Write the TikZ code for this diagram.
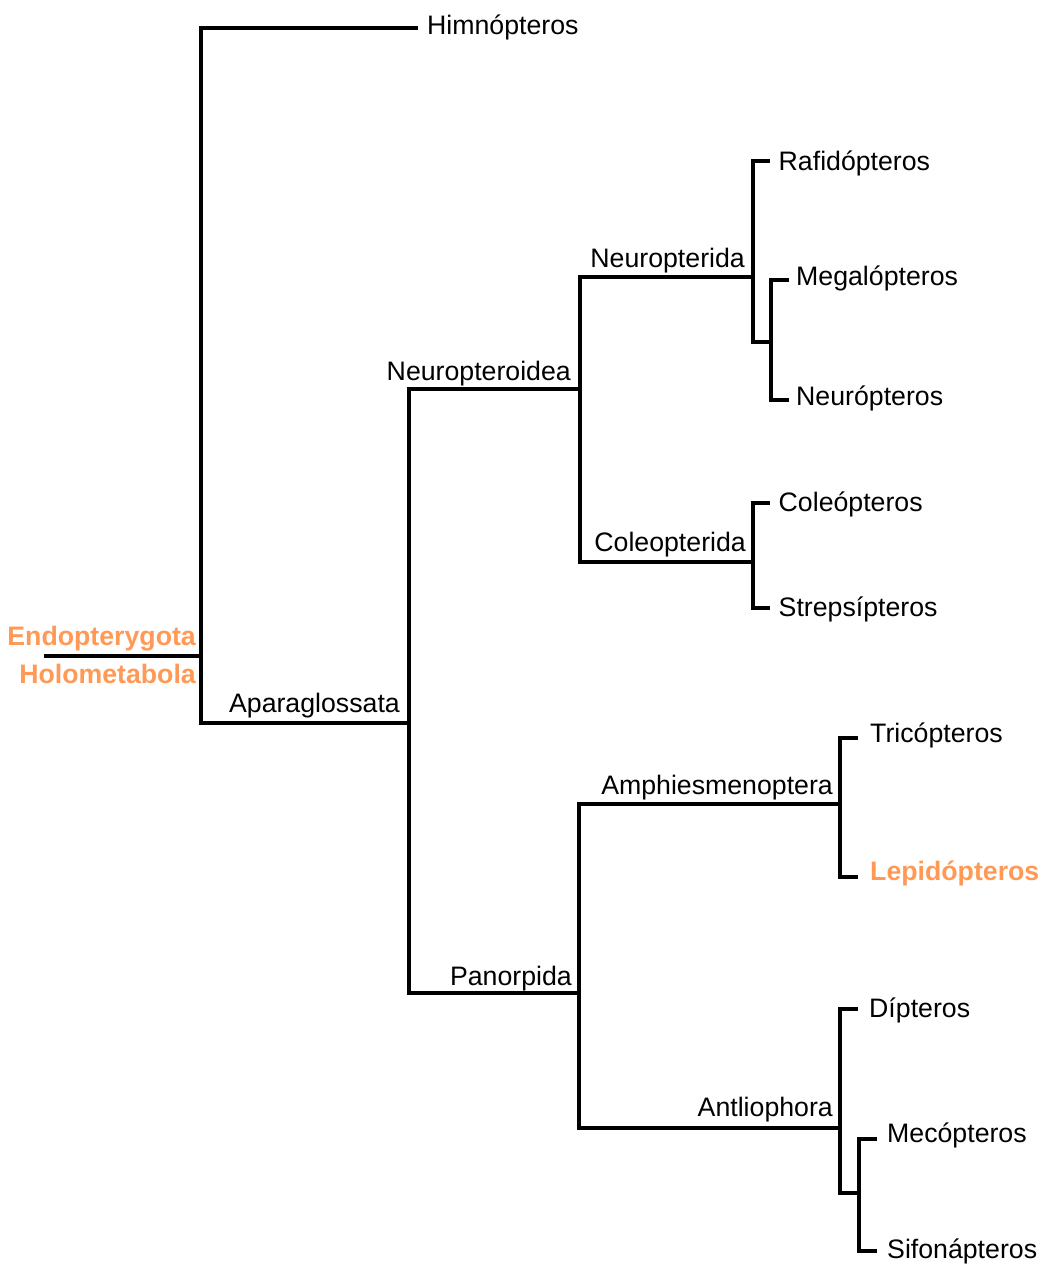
\documentclass[tikz,border=0pt]{standalone}
\usepackage{fontspec}
\setmainfont{Liberation Sans}
\definecolor{hl}{HTML}{FF9955}
\begin{document}
\begin{tikzpicture}[x=1pt,y=-1pt,
  br/.style={line width=3.6pt,line join=miter,line cap=butt},
  lbl/.style={inner sep=0pt,font=\fontsize{26.7}{30}\selectfont},
  leaf/.style={lbl,anchor=base west},
  clade/.style={lbl,anchor=base east},
  hot/.style={text=hl,font=\fontsize{26.7}{30}\selectfont\bfseries}]
\useasboundingbox (0,0) rectangle (1042,1264);
% junctions and tips
\coordinate (stem) at (44,656);
\coordinate (root) at (201,656);
\coordinate (thimn) at (418,28);
\coordinate (apara) at (409,723);
\coordinate (neuroid) at (580,389);
\coordinate (panor) at (579,993);
\coordinate (neurida) at (753,277);
\coordinate (coleo) at (753,562);
\coordinate (traf) at (770,161);
\coordinate (megneu) at (771,342);
\coordinate (tmeg) at (789,280);
\coordinate (tneu) at (789,400);
\coordinate (tcol) at (770,503);
\coordinate (tstr) at (770,608);
\coordinate (amphi) at (840,804);
\coordinate (antlio) at (840,1128);
\coordinate (ttri) at (858,738);
\coordinate (tlep) at (858,877);
\coordinate (tdip) at (858,1009);
\coordinate (mecsif) at (859,1193);
\coordinate (tmec) at (877,1139);
\coordinate (tsif) at (877,1251);
% branches
\draw[br] (stem) -- (root);
\draw[br] (root) |- (thimn);
\draw[br] (root) |- (apara);
\draw[br] (apara) |- (neuroid);
\draw[br] (apara) |- (panor);
\draw[br] (neuroid) |- (neurida);
\draw[br] (neuroid) |- (coleo);
\draw[br] (neurida) |- (traf);
\draw[br] (neurida) |- (megneu);
\draw[br] (megneu) |- (tmeg);
\draw[br] (megneu) |- (tneu);
\draw[br] (coleo) |- (tcol);
\draw[br] (coleo) |- (tstr);
\draw[br] (panor) |- (amphi);
\draw[br] (panor) |- (antlio);
\draw[br] (amphi) |- (ttri);
\draw[br] (amphi) |- (tlep);
\draw[br] (antlio) |- (tdip);
\draw[br] (antlio) |- (mecsif);
\draw[br] (mecsif) |- (tmec);
\draw[br] (mecsif) |- (tsif);
% leaf labels
\node[leaf] (lhimn) at (427,34.5) {Himnópteros};
\node[leaf] (lraf) at (778.5,170) {Rafidópteros};
\node[leaf] (lmeg) at (796,285) {Megalópteros};
\node[leaf] (lneu) at (796,405.5) {Neurópteros};
\node[leaf] (lcol) at (778.5,511.5) {Coleópteros};
\node[leaf] (lstr) at (778.5,616.5) {Strepsípteros};
\node[leaf] (ltri) at (870,742) {Tricópteros};
\node[leaf,hot] (llep) at (870,880.5) {Lepidópteros};
\node[leaf] (ldip) at (869,1017.5) {Dípteros};
\node[leaf] (lmec) at (887,1142.5) {Mecópteros};
\node[leaf] (lsif) at (887,1258.5) {Sifonápteros};
% clade labels
\node[clade,hot] (lendo) at (196,645) {Endopterygota};
\node[clade,hot] (lholo) at (196,683) {Holometabola};
\node[clade] (lapara) at (400,712) {Aparaglossata};
\node[clade] (lneuroid) at (571,380) {Neuropteroidea};
\node[clade] (lpanor) at (572,985) {Panorpida};
\node[clade] (lneurida) at (745,267) {Neuropterida};
\node[clade] (lcoleo) at (746,551) {Coleopterida};
\node[clade] (lamphi) at (833,794) {Amphiesmenoptera};
\node[clade] (lantlio) at (833,1116) {Antliophora};
\end{tikzpicture}
\end{document}
